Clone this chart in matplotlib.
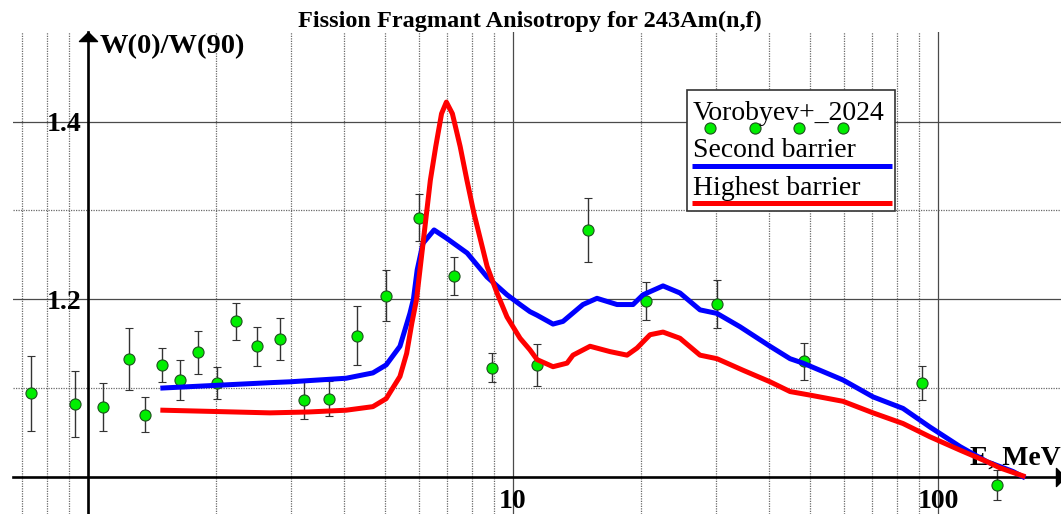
import matplotlib
matplotlib.use('Agg')
import matplotlib.pyplot as plt
from matplotlib.ticker import FixedLocator, FixedFormatter, LogLocator, NullFormatter
from matplotlib.path import Path
from matplotlib.patches import Rectangle
from matplotlib.lines import Line2D

plt.rcParams['font.family'] = ['Liberation Serif', 'DejaVu Serif']

# Vorobyev+_2024 measured anisotropy
exp_E = [0.733, 0.934, 1.083, 1.251, 1.362, 1.496, 1.646, 1.815, 2.008, 2.234,
         2.502, 2.830, 3.218, 3.697, 4.296, 5.034, 6.02, 7.26, 8.94, 11.37,
         14.99, 20.56, 30.15, 48.4, 91.5, 137.7]
exp_W = [1.094, 1.082, 1.079, 1.133, 1.070, 1.126, 1.109, 1.140, 1.106, 1.175,
         1.147, 1.155, 1.087, 1.088, 1.159, 1.204, 1.292, 1.226, 1.123, 1.126,
         1.278, 1.198, 1.195, 1.130, 1.106, 0.991]
exp_dW = [0.042, 0.037, 0.027, 0.035, 0.020, 0.019, 0.023, 0.024, 0.018, 0.021,
          0.022, 0.024, 0.022, 0.020, 0.033, 0.029, 0.027, 0.021, 0.016, 0.024,
          0.036, 0.021, 0.027, 0.021, 0.019, 0.017]

# calculation, second barrier
sec_E = [1.50, 2.0, 2.68, 2.99, 4.05, 4.68, 5.03, 5.42, 5.72, 5.83, 5.95, 6.14,
         6.52, 6.96, 7.80, 8.69, 9.68, 10.39, 10.96, 11.39, 12.42, 13.11, 14.61,
         15.76, 17.57, 19.16, 20.23, 22.54, 24.71, 27.54, 30.2, 34.2, 40.25,
         44.86, 48.13, 59.78, 70.33, 82.73, 95.76, 112.7, 130.4, 150.1, 158.5]
sec_W = [1.100, 1.103, 1.106, 1.107, 1.111, 1.117, 1.126, 1.147, 1.184, 1.200,
         1.233, 1.263, 1.278, 1.269, 1.252, 1.225, 1.205, 1.194, 1.186, 1.182,
         1.172, 1.175, 1.194, 1.201, 1.194, 1.194, 1.205, 1.215, 1.207, 1.188,
         1.184, 1.169, 1.147, 1.133, 1.128, 1.109, 1.090, 1.077, 1.056, 1.034,
         1.017, 1.006, 1.000]

# calculation, highest barrier
hi_E = [1.50, 2.68, 3.3, 4.05, 4.68, 5.03, 5.42, 5.62, 5.78, 5.93, 6.27, 6.39,
        6.58, 6.79, 6.97, 7.20, 7.51, 7.79, 8.09, 8.69, 9.17, 9.68, 10.39,
        10.96, 11.39, 12.42, 13.40, 13.84, 15.18, 16.91, 18.55, 19.58, 21.01,
        22.54, 24.71, 27.54, 30.2, 34.77, 40.25, 44.86, 49.98, 59.78, 70.33,
        82.73, 95.76, 112.7, 130.4, 139.9, 158.5]
hi_W = [1.075, 1.072, 1.073, 1.075, 1.079, 1.088, 1.113, 1.139, 1.173, 1.200,
        1.300, 1.334, 1.372, 1.409, 1.422, 1.409, 1.372, 1.334, 1.297, 1.237,
        1.207, 1.180, 1.156, 1.143, 1.132, 1.124, 1.128, 1.137, 1.147, 1.141,
        1.137, 1.145, 1.160, 1.163, 1.156, 1.137, 1.133, 1.120, 1.107, 1.096,
        1.092, 1.085, 1.072, 1.060, 1.045, 1.030, 1.017, 1.010, 1.001]

y_major = [1.2, 1.4]
y_minor = [1.1, 1.3]
x_major = [1, 10, 100]
x_labels = ['', '10', '100']

W_PX, H_PX = 1061, 514
fig = plt.figure(figsize=(W_PX / 100, H_PX / 100), dpi=100)


def fx(px):
    return px / W_PX


def fy(py):
    return 1 - py / H_PX


ax = fig.add_axes([fx(12.7), 0, 1 - fx(12.7), 1 - 32.3 / H_PX])
ax.set_xscale('log')
ax.set_xlim(0.665, 194.7)
ax.set_ylim(0.9581, 1.5006)

for s in ['top', 'right']:
    ax.spines[s].set_visible(False)
ax.spines['left'].set_position(('data', 1.0))
ax.spines['bottom'].set_position(('data', 1.0))
for s in ['left', 'bottom']:
    ax.spines[s].set_linewidth(1.9)
    ax.spines[s].set_zorder(2.5)

ax.xaxis.set_major_locator(FixedLocator(x_major))
ax.xaxis.set_major_formatter(FixedFormatter(x_labels))
ax.xaxis.set_minor_locator(LogLocator(base=10, subs=range(2, 10), numticks=30))
ax.xaxis.set_minor_formatter(NullFormatter())
ax.yaxis.set_major_locator(FixedLocator(y_major))
ax.yaxis.set_major_formatter(FixedFormatter(['%.1f' % v for v in y_major]))
ax.yaxis.set_minor_locator(FixedLocator(y_minor))
ax.tick_params(which='both', length=0, labelsize=20)
ax.tick_params(axis='y', pad=5)
ax.tick_params(axis='x', pad=9)
for lab in ax.get_xticklabels() + ax.get_yticklabels():
    lab.set_fontweight('bold')

ax.set_axisbelow(True)
ax.grid(True, which='major', color='#4a4a4a', lw=0.9, ls='-')
ax.grid(True, which='minor', color='#6a6a6a', lw=0.9, ls=(0, (1, 1)))

# axis arrows
up = Path([(-1, -1), (1, -1), (0, 0), (-1, -1)],
          [Path.MOVETO, Path.LINETO, Path.LINETO, Path.CLOSEPOLY])
right = Path([(-1, -1), (-1, 1), (0, 0), (-1, -1)],
             [Path.MOVETO, Path.LINETO, Path.LINETO, Path.CLOSEPOLY])
ax.plot([1.0], [1.0], marker=up, ms=13, color='k', ls='none',
        transform=ax.get_xaxis_transform(), clip_on=False, zorder=5)
ax.plot([1.0038], [1.0], marker=right, ms=13, color='k', ls='none',
        transform=ax.get_yaxis_transform(), clip_on=False, zorder=5)

ax.text(fx(100), fy(53.5), 'W(0)/W(90)', transform=fig.transFigure,
        fontsize=20.5, fontweight='bold', ha='left', va='baseline', zorder=1)
ax.text(fx(970), fy(465), 'E, MeV', transform=fig.transFigure,
        fontsize=20, fontweight='bold', ha='left', va='baseline', zorder=1)

ax.errorbar(exp_E, exp_W, yerr=exp_dW, fmt='o', ms=8, mfc='#00ee00',
            mec='#1f4f1f', mew=0.8, ecolor='#333333', elinewidth=1.0,
            capsize=3, capthick=1.0, zorder=2)
ax.plot(sec_E, sec_W, color='#0000ff', lw=3.6, solid_joinstyle='round', zorder=3)
ax.plot(hi_E, hi_W, color='#ff0000', lw=3.6, solid_joinstyle='round', zorder=3.1)

fig.text(fx(529.5), fy(27.5), 'Fission Fragmant Anisotropy for 243Am(n,f)',
         ha='center', va='baseline', fontsize=17.5, fontweight='bold')

# legend drawn by hand
fig.add_artist(Rectangle((fx(687.3), fy(211)), fx(895) - fx(687.3), fy(90) - fy(211),
                         transform=fig.transFigure, fc='white', ec='#333333',
                         lw=1.2, zorder=10))
fig.text(fx(693), fy(120), 'Vorobyev+_2024', fontsize=20, va='baseline', zorder=11)
fig.add_artist(Line2D([fx(v) for v in [710, 755, 799.3, 843.3]], [fy(128.3)] * 4,
                      transform=fig.transFigure, ls='none', marker='o', ms=8,
                      mfc='#00ee00', mec='#1f4f1f', mew=0.8, zorder=11))
fig.text(fx(693), fy(156.7), 'Second barrier', fontsize=20, va='baseline', zorder=11)
fig.add_artist(Line2D([fx(692), fx(891.7)], [fy(165.7)] * 2, transform=fig.transFigure,
                      color='#0000ff', lw=3.6, solid_capstyle='butt', zorder=11))
fig.text(fx(693), fy(195), 'Highest barrier', fontsize=20, va='baseline', zorder=11)
fig.add_artist(Line2D([fx(692), fx(891.7)], [fy(202.7)] * 2, transform=fig.transFigure,
                      color='#ff0000', lw=3.6, solid_capstyle='butt', zorder=11))

fig.savefig('out.png', dpi=100)
